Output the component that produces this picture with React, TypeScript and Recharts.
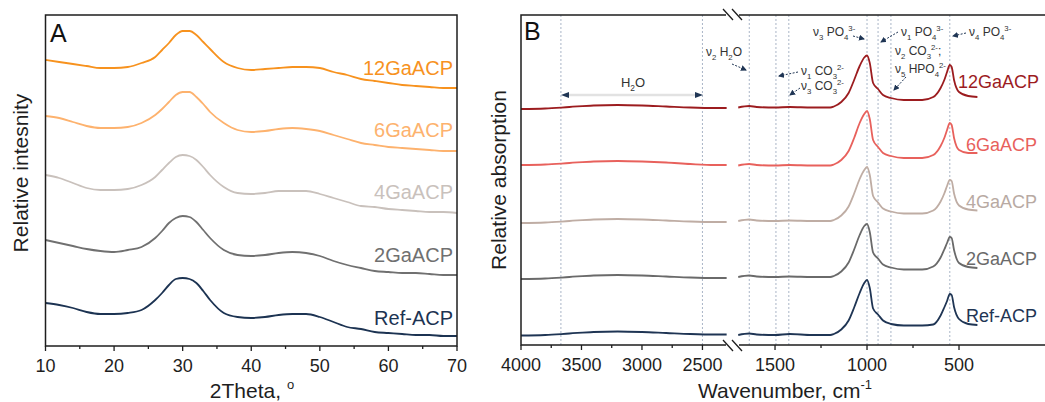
import React from 'react';
import { LineChart, Line, XAxis, YAxis, ReferenceLine } from 'recharts';

const FONT = '"Liberation Sans", Arial, Helvetica, sans-serif';
const INK = '#1e1e1e';

// ---- panel A: XRD patterns (offset, arbitrary units) ----
const twoTheta = [10, 12, 14, 16, 18, 20, 22, 24, 26, 27, 28, 29, 30, 31, 32, 33, 34, 36, 38, 40, 42, 44, 46, 48, 50, 52, 54, 56, 58, 60, 62, 64, 66, 68, 70];
const xrd12Ga = [286, 284, 282, 280, 278, 278, 279, 283, 289, 296, 303, 311, 315, 315, 311, 304, 297, 284, 278, 276, 277, 278, 279, 279, 278, 274, 271, 267, 265, 263, 261, 260, 259, 258, 258];
const xrd6Ga = [230, 228, 224, 220, 218, 218, 219, 223, 231, 237, 244, 251, 254, 254, 249, 242, 234, 223, 216, 214, 215, 217, 218, 217, 215, 211, 207, 203, 201, 199, 198, 197, 196, 195, 195];
const xrd4Ga = [171, 168, 163, 158, 156, 156, 157, 161, 169, 176, 183, 189, 191, 190, 186, 179, 171, 159, 153, 152, 153, 155, 155, 155, 152, 148, 144, 140, 139, 137, 136, 135, 134, 134, 133];
const xrd2Ga = [106, 103, 100, 97, 95, 94, 96, 99, 108, 115, 123, 128, 130, 129, 124, 116, 108, 96, 91, 90, 91, 93, 94, 93, 90, 85, 81, 78, 75, 74, 73, 73, 72, 71, 71];
const xrdRef = [43, 41, 38, 34, 32, 32, 33, 36, 46, 53, 61, 67, 68, 67, 63, 55, 46, 33, 29, 28, 29, 31, 32, 32, 29, 24, 19, 17, 14, 13, 12, 11, 11, 10, 10];
const xrdTicks = [10, 15, 20, 25, 30, 35, 40, 45, 50, 55, 60, 65, 70];

// ---- panel B: FTIR spectra, split at the axis break ----
const wnLeft = [4000, 3800, 3600, 3400, 3200, 3000, 2800, 2600, 2400, 2300];
const irL12Ga = [236, 236.5, 238, 239.5, 240, 239.5, 238.5, 237.5, 237, 237];
const irL6Ga = [180, 180.5, 182, 183.5, 184, 183.5, 182.5, 181, 180, 180];
const irL4Ga = [122, 122.5, 124, 125.5, 126, 125.5, 124.5, 123.5, 123, 123];
const irL2Ga = [66, 66.5, 68, 69.5, 70, 69.5, 68.5, 67.5, 67, 67];
const irLRef = [9.5, 10, 11.5, 13, 13.5, 13, 12, 11, 10.5, 10.5];

const wnRight = [1700, 1640, 1600, 1500, 1420, 1300, 1200, 1180, 1140, 1100, 1070, 1040, 1015, 1000, 985, 967, 940, 913, 870, 800, 700, 640, 600, 580, 565, 550, 540, 527, 500, 450, 400];
const irR12Ga = [237.5, 239, 238, 237.5, 238, 237.5, 237.5, 238.5, 243, 252, 265, 279, 287.5, 289.5, 282, 262, 256, 250, 247, 245, 245, 248, 257, 265, 273, 280, 278, 265, 253, 249, 248];
const irR6Ga = [179.5, 181, 180, 179.5, 180, 179.5, 179.5, 180.5, 185, 194, 207, 222, 231, 234, 226, 205, 198, 192, 189, 187, 187, 190, 199, 207, 215, 222, 220, 207, 195, 192, 192];
const irR4Ga = [124, 125.5, 124.5, 124, 124.5, 124, 124, 125, 129.5, 138.5, 151.5, 166, 175, 178, 170, 149, 142.5, 136.5, 133.5, 131.5, 131.5, 134.5, 143.5, 151.5, 159, 165, 164, 151.5, 139.5, 135.5, 134.5];
const irR2Ga = [68, 69.5, 68.5, 68, 68.5, 68, 68, 69, 73.5, 82.5, 95.5, 110, 119, 121, 113, 92.5, 86.5, 80.5, 77.5, 75.5, 75.5, 78.5, 87.5, 95.5, 102, 108, 107, 95, 82, 78, 77];
const irRRef = [10, 11.5, 10.5, 10, 11, 10, 10, 11, 15.5, 24.5, 37.5, 52, 62, 65, 57, 36.5, 30.5, 24.5, 21, 19.5, 19.5, 20.5, 29.5, 37.5, 44, 51, 50, 38, 26, 21, 20];

const bandsLeft = [3670, 2500];
const bandsRight = [1640, 1495, 1425, 1000, 940, 870, 550];
const ticksLeft = [4000, 3750, 3500, 3250, 3000, 2750, 2500];
const ticksRight = [1500, 1250, 1000, 750, 500];

const sampleNames = ['12GaACP', '6GaACP', '4GaACP', '2GaACP', 'Ref-ACP'];
const xrdColors = ['#f7921e', '#fdb26e', '#c9c1bc', '#707070', '#1c3352'];
const irColors = ['#9c1c1f', '#e8615c', '#bfada4', '#6a6a6a', '#1f3554'];
const irLabelColors = ['#9c1c1f', '#e8615c', '#b8aaa3', '#6a6a6a', '#1f3554'];

const xrdValues = [xrd12Ga, xrd6Ga, xrd4Ga, xrd2Ga, xrdRef];
const irLeftValues = [irL12Ga, irL6Ga, irL4Ga, irL2Ga, irLRef];
const irRightValues = [irR12Ga, irR6Ga, irR4Ga, irR2Ga, irRRef];

const toRows = (xs: number[], series: number[][]) =>
  xs.map((x, i) => {
    const row: Record<string, number> = { x };
    series.forEach((vals, k) => (row[`s${k}`] = vals[i]));
    return row;
  });

const xrdRows = toRows(twoTheta, xrdValues);
const irLeftRows = toRows(wnLeft, irLeftValues);
const irRightRows = toRows(wnRight, irRightValues);

const makeTick = (majorStep: number) => (props: any) => {
  const { x, y, payload } = props;
  const major = payload.value % majorStep === 0;
  return (
    <g>
      <line x1={x} x2={x} y1={y} y2={y + (major ? 5 : 3)} stroke={INK} strokeWidth={1.3} />
      {major && (
        <text x={x} y={y + 26} textAnchor="middle" fontSize={18} fontFamily={FONT} fill={INK}>
          {payload.value}
        </text>
      )}
    </g>
  );
};

// text with sub (1) / superscript (-1) pieces
type Seg = [string, number];
function Chem({ x, y, parts, size = 12, anchor = 'start' }: { x: number; y: number; parts: Seg[]; size?: number; anchor?: string }) {
  let cur = 0;
  return (
    <text x={x} y={y} fontSize={size} fontFamily={FONT} fill="#333" textAnchor={anchor as any}>
      {parts.map(([t, s], i) => {
        const target = s === 1 ? size * 0.3 : s === -1 ? -size * 0.45 : 0;
        const dy = target - cur;
        cur = target;
        return (
          <tspan key={i} dy={dy} fontSize={s === 0 ? size : size * 0.65}>
            {t}
          </tspan>
        );
      })}
    </text>
  );
}

const notes: { x: number; y: number; parts: Seg[] }[] = [
  { x: 706, y: 56, parts: [['ν', 0], ['2', 1], [' H', 0], ['2', 1], ['O', 0]] },
  { x: 801, y: 75, parts: [['ν', 0], ['1', 1], [' CO', 0], ['3', 1], ['2-', -1]] },
  { x: 801, y: 90, parts: [['ν', 0], ['3', 1], [' CO', 0], ['3', 1], ['2-', -1]] },
  { x: 813, y: 36, parts: [['ν', 0], ['3', 1], [' PO', 0], ['4', 1], ['3-', -1]] },
  { x: 901, y: 36, parts: [['ν', 0], ['1', 1], [' PO', 0], ['4', 1], ['3-', -1]] },
  { x: 895, y: 55, parts: [['ν', 0], ['2', 1], [' CO', 0], ['3', 1], ['2-', -1], [';', 0]] },
  { x: 895, y: 73, parts: [['ν', 0], ['5', 1], [' HPO', 0], ['4', 1], ['2-', -1]] },
  { x: 969, y: 36, parts: [['ν', 0], ['4', 1], [' PO', 0], ['4', 1], ['3-', -1]] },
];

const arrows = [
  [732, 64, 746, 70],
  [798, 72, 779, 76],
  [800, 88, 790, 95],
  [853, 36, 864, 39],
  [898, 32, 881, 42],
  [906, 77, 894, 90],
  [966, 33, 953, 36],
];

const xrdLabelY = [75, 137, 199, 262, 325];
const irLabelY = [88, 151, 208, 265, 322];

export default function App() {
  const lines = (colors: string[]) =>
    colors.map((c, k) => (
      <Line
        key={k}
        dataKey={`s${k}`}
        type="monotone"
        stroke={c}
        strokeWidth={1.8}
        dot={false}
        isAnimationActive={false}
      />
    ));

  return (
    <div style={{ position: 'absolute', left: 0, top: 0, width: 1045, height: 402, overflow: 'hidden', background: '#fff', fontFamily: FONT }}>
      {/* panel A */}
      <div style={{ position: 'absolute', left: 0, top: 0 }}>
        <LineChart width={470} height={402} data={xrdRows} margin={{ top: 15, right: 13, bottom: 0, left: 45.5 }}>
          <XAxis
            dataKey="x"
            type="number"
            domain={[10, 70]}
            ticks={xrdTicks}
            interval={0}
            tickSize={0}
            tickMargin={0}
            axisLine={false}
            tickLine={false}
            tick={makeTick(10)}
            height={56}
          />
          <YAxis hide domain={[0, 331]} />
          {lines(xrdColors)}
        </LineChart>
      </div>

      {/* panel B, high wavenumber part */}
      <div style={{ position: 'absolute', left: 440, top: 0 }}>
        <LineChart width={300} height={402} data={irLeftRows} margin={{ top: 15, right: 9, bottom: 0, left: 81 }}>
          <XAxis
            dataKey="x"
            type="number"
            domain={[2264, 4000]}
            reversed
            ticks={ticksLeft}
            interval={0}
            tickSize={0}
            tickMargin={0}
            axisLine={false}
            tickLine={false}
            tick={makeTick(500)}
            height={57}
          />
          <YAxis hide domain={[0, 330]} />
          {bandsLeft.map((b) => (
            <ReferenceLine key={b} x={b} stroke="#a9b5c7" strokeDasharray="2 2" strokeWidth={1} />
          ))}
          {lines(irColors)}
        </LineChart>
      </div>

      {/* panel B, fingerprint part */}
      <div style={{ position: 'absolute', left: 700, top: 0 }}>
        <LineChart width={360} height={402} data={irRightRows} margin={{ top: 15, right: 9, bottom: 0, left: 34 }}>
          <XAxis
            dataKey="x"
            type="number"
            domain={[0, 1723]}
            reversed
            ticks={ticksRight}
            interval={0}
            tickSize={0}
            tickMargin={0}
            axisLine={false}
            tickLine={false}
            tick={makeTick(500)}
            height={57}
          />
          <YAxis hide domain={[0, 330]} />
          {bandsRight.map((b) => (
            <ReferenceLine key={b} x={b} stroke="#a9b5c7" strokeDasharray="2 2" strokeWidth={1} />
          ))}
          {lines(irColors)}
        </LineChart>
      </div>

      {/* frames, labels and annotations */}
      <svg width={1045} height={402} style={{ position: 'absolute', left: 0, top: 0, pointerEvents: 'none' }}>
        <defs>
          <marker id="ah" markerWidth={6} markerHeight={6} refX={5} refY={3} orient="auto">
            <path d="M0,0 L6,3 L0,6 z" fill="#1f3554" />
          </marker>
        </defs>

        <rect x={45.5} y={15} width={411.5} height={331} fill="none" stroke={INK} strokeWidth={1.5} />
        <path d="M726 15 L521 15 L521 345 L726 345 M739 15 L1050 15 M739 345 L1050 345" fill="none" stroke={INK} strokeWidth={1.5} />
        <path d="M723 9 L733 20 M732 9 L742 20 M723 340 L733 351 M732 340 L742 351" stroke={INK} strokeWidth={1.3} />

        <text x={50} y={42} fontSize={25} fontFamily={FONT} fill="#111">A</text>
        <text x={524} y={40} fontSize={25} fontFamily={FONT} fill="#111">B</text>

        <text transform="translate(28,173) rotate(-90)" textAnchor="middle" fontSize={21} fontFamily={FONT} fill={INK}>
          Relative intesnity
        </text>
        <text transform="translate(506,180) rotate(-90)" textAnchor="middle" fontSize={21} fontFamily={FONT} fill={INK}>
          Relative absorption
        </text>

        <text x={252} y={398} textAnchor="middle" fontSize={21} fontFamily={FONT} fill={INK}>
          2Theta, <tspan fontSize={13} dy={-9}>o</tspan>
        </text>
        <text x={785} y={398} textAnchor="middle" fontSize={21} fontFamily={FONT} fill={INK}>
          Wavenumber, cm<tspan fontSize={13} dy={-9}>-1</tspan>
        </text>

        {sampleNames.map((n, k) => (
          <text key={`a${k}`} x={453} y={xrdLabelY[k]} textAnchor="end" fontSize={20} fontFamily={FONT} fill={xrdColors[k]}>
            {n}
          </text>
        ))}
        {sampleNames.map((n, k) => (
          <text key={`b${k}`} x={k === 0 ? 958 : 966} y={irLabelY[k]} fontSize={18} fontFamily={FONT} fill={irLabelColors[k]}>
            {n}
          </text>
        ))}

        {/* H2O range arrow */}
        <line x1={566} y1={95} x2={698} y2={95} stroke="#e2e2e2" strokeWidth={2.5} />
        <polygon points="561,95 569,92 569,98" fill="#1f3554" />
        <polygon points="703,95 695,92 695,98" fill="#1f3554" />
        <Chem x={633} y={87} size={13} anchor="middle" parts={[['H', 0], ['2', 1], ['O', 0]]} />

        {notes.map((n, i) => (
          <Chem key={i} x={n.x} y={n.y} parts={n.parts} />
        ))}
        {arrows.map(([x1, y1, x2, y2], i) => (
          <line key={i} x1={x1} y1={y1} x2={x2} y2={y2} stroke="#1f3554" strokeWidth={1} strokeDasharray="2 1.5" markerEnd="url(#ah)" />
        ))}
      </svg>
    </div>
  );
}
